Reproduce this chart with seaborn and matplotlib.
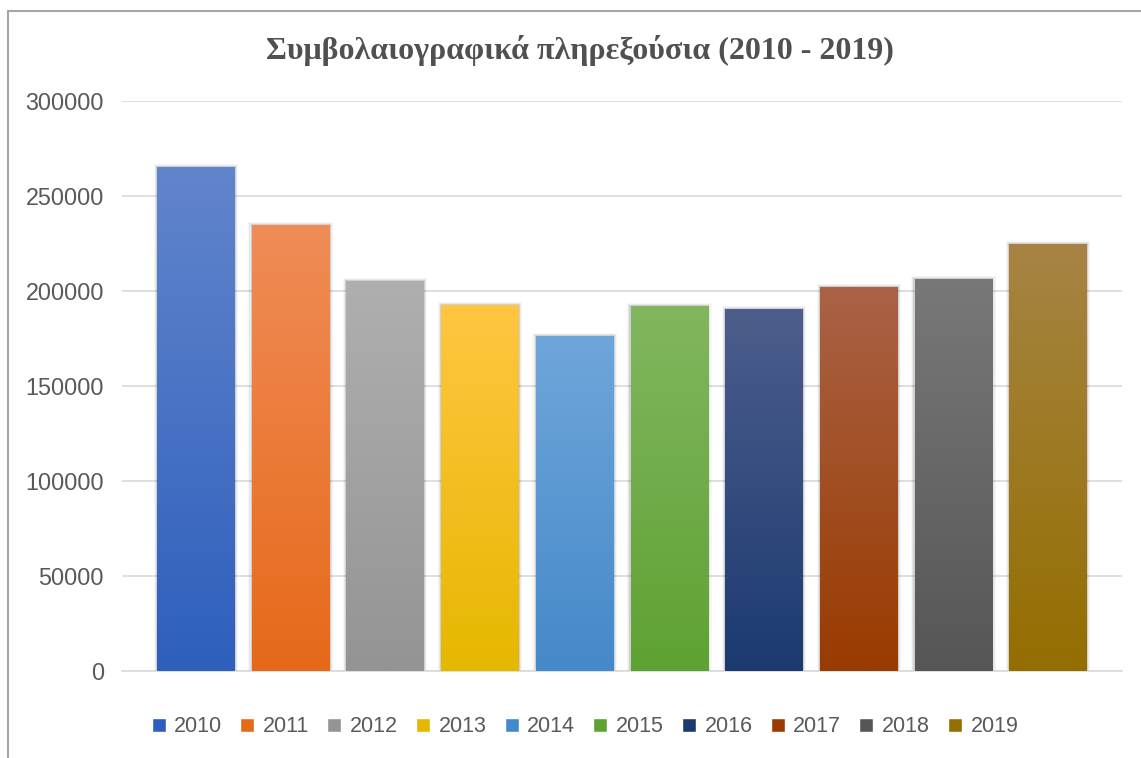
import numpy as np
import pandas as pd
import matplotlib
matplotlib.use("Agg")
import matplotlib.pyplot as plt
import seaborn as sns
from matplotlib.colors import LinearSegmentedColormap
from matplotlib.patches import Rectangle

# data
years = ["2010", "2011", "2012", "2013", "2014", "2015", "2016", "2017", "2018", "2019"]
values = [265200, 234700, 205300, 192600, 176300, 192100, 190500, 202100, 206300, 224700]

# top (light) / bottom (dark) colours of each bar
top_colors = ["#6185CC", "#F08C57", "#AFAFAF", "#FFC642", "#6FA6DA",
              "#82B65F", "#4D5E8C", "#AA6246", "#787878", "#A78444"]
bottom_colors = ["#2E5FBC", "#E6691A", "#949494", "#E5B800", "#4489C9",
                 "#5EA233", "#1B3A70", "#993B00", "#565656", "#946E00"]

df = pd.DataFrame({"year": years, "value": values})

sns.set_theme(style="white")
plt.rcParams["font.family"] = ["Liberation Sans", "DejaVu Sans"]

fig = plt.figure(figsize=(11.41, 7.58), dpi=100)
ax = fig.add_axes([122 / 1141, 1 - 671 / 758, (1122 - 122) / 1141, (671 - 101) / 758])

sns.barplot(data=df, x="year", y="value", hue="year", palette=bottom_colors,
            width=0.82, legend=False, ax=ax, zorder=3, linewidth=0, edgecolor="none")

ax.set_yticks(np.arange(0, 300001, 50000))
ax.set_yticklabels([str(v) for v in range(0, 300001, 50000)])
ax.grid(axis="y", color="#D9D9D9", linewidth=1.2, zorder=0)
ax.set_xticks([])
ax.set_xlabel("")
ax.set_ylabel("")
for s in ["top", "right", "left"]:
    ax.spines[s].set_visible(False)
ax.spines["bottom"].set_color("#D9D9D9")
ax.spines["bottom"].set_linewidth(1.2)
ax.tick_params(axis="y", length=0, pad=13, labelsize=16.8, labelcolor="#595959")

# vertical gradient on each bar, plus a soft shadow
grad = np.linspace(0, 1, 256).reshape(-1, 1)
for bar, c_top, c_bot in zip(ax.patches, top_colors, bottom_colors):
    x0, w, h = bar.get_x(), bar.get_width(), bar.get_height()
    for k, a in [(0.012, 0.10), (0.024, 0.06), (0.036, 0.03)]:
        sh = Rectangle((x0 - k, 0), w + 2 * k, h + k * 40000, facecolor="black",
                       alpha=a, edgecolor="none", zorder=2)
        ax.add_patch(sh)
    cmap = LinearSegmentedColormap.from_list("g", [c_bot, c_top])
    im = ax.imshow(grad, cmap=cmap, aspect="auto", origin="lower",
                   extent=[x0, x0 + w, 0, h], zorder=4)
    im.set_clip_path(bar)
ax.set_xlim(-0.78, 9.78)
ax.set_ylim(0, 300000)

# title
fig.text(580 / 1141, 1 - 51 / 758, "Συμβολαιογραφικά πληρεξούσια (2010 - 2019)",
         ha="center", va="center", fontsize=23, fontweight="bold",
         color="#505050", family=["Liberation Serif", "DejaVu Serif"])

# legend
handles = [Rectangle((0, 0), 1, 1, facecolor=c) for c in bottom_colors]
fig.legend(handles, years, loc="center", bbox_to_anchor=(585 / 1141, 1 - 727 / 758),
           ncol=10, frameon=False, fontsize=15.5, labelcolor="#595959",
           handlelength=0.65, handleheight=0.65, handletextpad=0.4, columnspacing=0.84)

# outer chart frame (top and left edges visible)
fig.patches.append(Rectangle((8 / 1141, -0.1), 1.2, 1 - 11 / 758 + 0.1,
                             transform=fig.transFigure, fill=False,
                             edgecolor="#A6A6A6", linewidth=1.5))

fig.savefig("out.png", dpi=100)
